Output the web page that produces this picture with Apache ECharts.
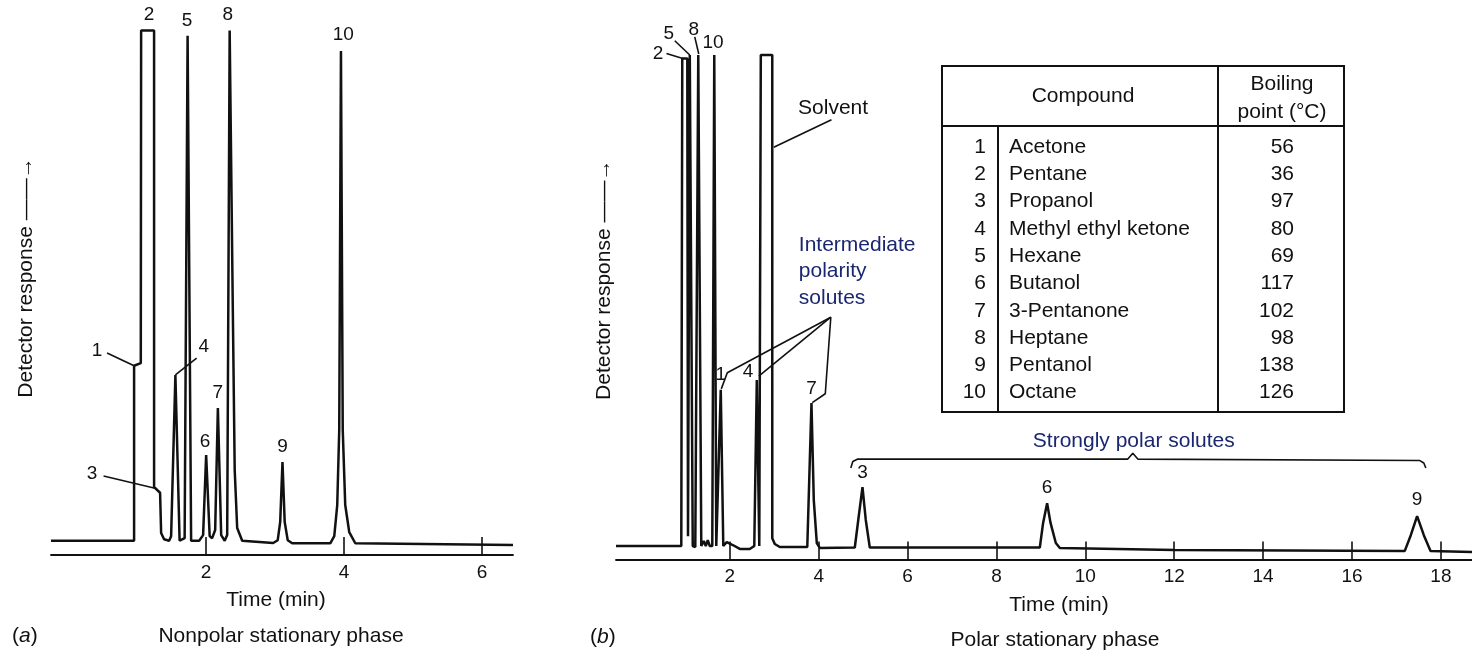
<!DOCTYPE html>
<html lang="en">
<head>
<meta charset="UTF-8">
<title>Chromatograms</title>
<script src="https://cdn.jsdelivr.net/npm/echarts@6/dist/echarts.min.js"></script>
<style>
  html, body { margin: 0; padding: 0; background: #fff; }
  #main { width: 1472px; height: 656px; }
</style>
</head>
<body>
<div id="main"></div>
<script>
// time axis ticks (min)
var leftTicks = [2, 4, 6];
var rightTicks = [2, 4, 6, 8, 10, 12, 14, 16, 18];

// detector trace, nonpolar phase: [time (min), response (% of full scale)]
var leftTrace = [
  [-0.25, 0], [0.955, 0], [0.955, 34.3], [1.052, 34.8], [1.057, 100], [1.245, 100],
  [1.245, 10.5], [1.332, 9.4], [1.347, 1.5], [1.39, 0.3], [1.463, 0],
  [1.492, 0.9], [1.554, 32.5], [1.615, 0],
  [1.688, 0.5], [1.731, 99], [1.782, 0], [1.898, 0],
  [1.956, 1.1], [2.0, 16.8], [2.051, 0.9], [2.087, 0.5],
  [2.131, 2.1], [2.17, 26], [2.218, 1.1], [2.269, 0],
  [2.305, 1.1], [2.341, 100], [2.385, 47.2], [2.414, 13.9], [2.45, 2.5], [2.523, 0],
  [2.972, -0.45], [3.038, 0.1], [3.074, 3.7], [3.107, 15.4], [3.139, 3.7], [3.183, 0.1], [3.248, -0.5],
  [3.8, -0.5], [3.858, 0.9], [3.901, 7], [3.93, 21.7], [3.955, 96], [3.981, 21.7], [4.017, 7], [4.075, 1.7], [4.163, -0.5],
  [6.45, -0.85]
];

// detector trace, polar phase
var rightTrace = [
  [-0.56, 0], [0.909, 0], [0.931, 99.3], [1.044, 99.3], [1.06, 2], [1.1, 100], [1.167, 0],
  [1.224, -0.2], [1.291, 100], [1.359, 0], [1.415, 1.0], [1.46, 0], [1.505, 1.2], [1.55, 0],
  [1.606, 0], [1.651, 100], [1.696, 0],
  [1.741, 0.2], [1.797, 31.8], [1.854, 0],
  [1.932, 0.8], [2.068, 0.2], [2.225, -0.6], [2.45, -0.6],
  [2.551, 0], [2.608, 33.8], [2.664, 0],
  [2.686, 0], [2.698, 100], [2.956, 100], [2.956, 1.6], [3.013, 0.4], [3.125, -0.2],
  [3.744, -0.2], [3.838, 29.1], [3.89, 9.4], [3.958, 0.6], [4.025, -0.4],
  [4.813, -0.3], [4.891, 5.3], [4.986, 12.0], [5.06, 5.3], [5.15, -0.3],
  [8.976, -0.3], [9.05, 4.7], [9.14, 8.7], [9.217, 4.7], [9.336, 0.6], [9.426, -0.4],
  [12.013, -0.8], [17.188, -1.0], [17.323, 2.2], [17.465, 6.1], [17.616, 2.2], [17.767, -1.0],
  [18.7, -1.2]
];

// peak number labels: [text, time, response]
var leftPeakLabels = [
  ['1', 0.418, 37.2], ['2', 1.173, 103.1], ['3', 0.345, 13.1], ['4', 1.964, 38.0],
  ['5', 1.724, 102.0], ['6', 1.985, 19.4], ['7', 2.17, 29.0], ['8', 2.315, 103.1],
  ['9', 3.107, 18.4], ['10', 3.988, 99.2]
];
var rightPeakLabels = [
  ['2', 0.387, 100.3], ['5', 0.627, 104.4], ['8', 1.19, 105.2], ['10', 1.624, 102.5],
  ['1', 1.797, 34.8], ['4', 2.412, 35.5], ['7', 3.838, 32.1],
  ['3', 4.986, 14.9], ['6', 9.14, 11.8], ['9', 17.465, 9.4]
];

// leader lines
var leftLeaders = [
  [[0.563, 36.8], [0.955, 34.3]],
  [[0.512, 12.7], [1.289, 10.2]],
  [[1.862, 35.8], [1.554, 32.5]]
];
var rightLeaders = [
  [[0.576, 100.3], [0.943, 99.3]],
  [[0.762, 102.9], [1.1, 100]],
  [[1.212, 103.7], [1.302, 100.2]],
  [[4.288, 86.8], [2.99, 81.2]],
  [[4.273, 46.6], [1.944, 35.3], [1.809, 32.0]],
  [[4.273, 46.6], [2.653, 34.6]],
  [[4.273, 46.6], [4.149, 31.0], [3.856, 29.2]]
];
var polarBrace = [
  [4.723, 15.9], [4.768, 17.2], [4.88, 17.7], [10.956, 17.7], [11.068, 18.9],
  [11.181, 17.7], [17.526, 17.4], [17.616, 16.9], [17.661, 15.9]
];

// table
var compoundIds = ['1', '2', '3', '4', '5', '6', '7', '8', '9', '10'];
var compoundNames = ['Acetone', 'Pentane', 'Propanol', 'Methyl ethyl ketone', 'Hexane',
  'Butanol', '3-Pentanone', 'Heptane', 'Pentanol', 'Octane'];
var boilingPoints = [56, 36, 97, 80, 69, 117, 102, 98, 138, 126];

var INK = '#111';
var NAVY = '#1b2670';
var FONT = '"Liberation Sans", Arial, Helvetica, sans-serif';

var myChart = echarts.init(document.getElementById('main'));

function xAxisFor(gi, min, max, ticks, pad) {
  return {
    type: 'value', gridIndex: gi, min: min, max: max,
    axisLine: { show: true, onZero: false, lineStyle: { color: INK, width: 1.8 } },
    axisTick: { show: true, inside: true, length: 18, customValues: ticks, lineStyle: { color: INK, width: 1.6 } },
    axisLabel: { customValues: ticks, fontSize: 19, color: INK, fontFamily: FONT, margin: 8 },
    splitLine: { show: false },
    name: 'Time (min)', nameLocation: 'middle', nameGap: 35,
    nameTextStyle: { fontSize: 21, color: INK, fontFamily: FONT, padding: pad }
  };
}
function yAxisFor(gi, min, max, gap) {
  return {
    type: 'value', gridIndex: gi, min: min, max: max,
    axisLine: { show: false }, axisTick: { show: false }, axisLabel: { show: false },
    splitLine: { show: false },
    name: 'Detector response \u2014\u2014\u2192', nameLocation: 'middle', nameRotate: 90, nameGap: gap,
    nameTextStyle: { fontSize: 21, color: INK, fontFamily: FONT }
  };
}
function trace(data, gi) {
  return {
    type: 'line', xAxisIndex: gi, yAxisIndex: gi, data: data,
    showSymbol: false, symbol: 'none', silent: true, clip: false,
    lineStyle: { color: INK, width: 2.5 }, z: 4
  };
}
function leader(points, gi) {
  return {
    type: 'line', xAxisIndex: gi, yAxisIndex: gi, data: points,
    showSymbol: false, symbol: 'none', silent: true, clip: false,
    lineStyle: { color: INK, width: 1.6 }, z: 3
  };
}
function labels(items, gi, size, color, align) {
  return {
    type: 'scatter', xAxisIndex: gi, yAxisIndex: gi, symbolSize: 1, silent: true, clip: false,
    itemStyle: { color: 'transparent', opacity: 1 },
    data: items.map(function (d) { return { name: d[0], value: [d[1], d[2]] }; }),
    label: { show: true, position: 'inside', formatter: '{b}', fontSize: size, color: color, opacity: 1,
      fontFamily: FONT, align: align || 'center', verticalAlign: 'middle' },
    z: 5
  };
}

var series = [trace(leftTrace, 0), trace(rightTrace, 1)];
leftLeaders.forEach(function (p) { series.push(leader(p, 0)); });
rightLeaders.forEach(function (p) { series.push(leader(p, 1)); });
series.push(leader(polarBrace, 1));
series.push(labels(leftPeakLabels, 0, 19, INK));
series.push(labels(rightPeakLabels, 1, 19, INK));
series.push(labels([['Solvent', 4.325, 89.1]], 1, 21, INK));
series.push(labels([['Intermediate', 3.553, 61.3], ['polarity', 3.553, 55.9], ['solutes', 3.553, 50.4]], 1, 21, NAVY, 'left'));
series.push(labels([['Strongly polar solutes', 11.09, 21.4]], 1, 21, NAVY));

// boiling point table (inset)
var tb = { x: 942, y: 66, w: 402, h: 346, head: 60, c1: 998, c2: 1218, row0: 147, rowH: 27.3 };
var graphic = [
  { type: 'rect', shape: { x: tb.x, y: tb.y, width: tb.w, height: tb.h }, style: { fill: '#fff', stroke: INK, lineWidth: 2 }, z: 1 },
  { type: 'line', shape: { x1: tb.x, y1: tb.y + tb.head, x2: tb.x + tb.w, y2: tb.y + tb.head }, style: { stroke: INK, lineWidth: 2 }, z: 2 },
  { type: 'line', shape: { x1: tb.c1, y1: tb.y + tb.head, x2: tb.c1, y2: tb.y + tb.h }, style: { stroke: INK, lineWidth: 2 }, z: 2 },
  { type: 'line', shape: { x1: tb.c2, y1: tb.y, x2: tb.c2, y2: tb.y + tb.h }, style: { stroke: INK, lineWidth: 2 }, z: 2 },
  { type: 'text', x: 1083, y: 96, style: { text: 'Compound', fontSize: 21, fontFamily: FONT, fill: INK, align: 'center', verticalAlign: 'middle' }, z: 2 },
  { type: 'text', x: 1282, y: 84, style: { text: 'Boiling', fontSize: 21, fontFamily: FONT, fill: INK, align: 'center', verticalAlign: 'middle' }, z: 2 },
  { type: 'text', x: 1282, y: 112, style: { text: 'point (\u00B0C)', fontSize: 21, fontFamily: FONT, fill: INK, align: 'center', verticalAlign: 'middle' }, z: 2 }
];
for (var i = 0; i < compoundIds.length; i++) {
  var ry = tb.row0 + i * tb.rowH;
  graphic.push({ type: 'text', x: 986, y: ry, style: { text: compoundIds[i], fontSize: 21, fontFamily: FONT, fill: INK, align: 'right', verticalAlign: 'middle' }, z: 2 });
  graphic.push({ type: 'text', x: 1009, y: ry, style: { text: compoundNames[i], fontSize: 21, fontFamily: FONT, fill: INK, align: 'left', verticalAlign: 'middle' }, z: 2 });
  graphic.push({ type: 'text', x: 1294, y: ry, style: { text: String(boilingPoints[i]), fontSize: 21, fontFamily: FONT, fill: INK, align: 'right', verticalAlign: 'middle' }, z: 2 });
}
// panel captions
graphic.push({ type: 'text', x: 12, y: 636, style: { text: '({i|a})', fontSize: 21, fontFamily: FONT, fill: INK, verticalAlign: 'middle', rich: { i: { fontStyle: 'italic', fontSize: 21, fontFamily: FONT } } } });
graphic.push({ type: 'text', x: 281, y: 636, style: { text: 'Nonpolar stationary phase', fontSize: 21, fontFamily: FONT, fill: INK, align: 'center', verticalAlign: 'middle' } });
graphic.push({ type: 'text', x: 590, y: 637, style: { text: '({i|b})', fontSize: 21, fontFamily: FONT, fill: INK, verticalAlign: 'middle', rich: { i: { fontStyle: 'italic', fontSize: 21, fontFamily: FONT } } } });
graphic.push({ type: 'text', x: 1055, y: 640, style: { text: 'Polar stationary phase', fontSize: 21, fontFamily: FONT, fill: INK, align: 'center', verticalAlign: 'middle' } });

myChart.setOption({
  animation: false,
  backgroundColor: '#fff',
  textStyle: { fontFamily: FONT },
  grid: [
    { left: 51, right: 959, top: 0, bottom: 101 },
    { left: 616, right: 0, top: 0, bottom: 96.5 }
  ],
  xAxis: [
    xAxisFor(0, -0.25, 6.45, leftTicks, [0, 12, 0, 0]),
    xAxisFor(1, -0.56, 18.7, rightTicks, [0, 0, 0, 30])
  ],
  yAxis: [
    yAxisFor(0, -2.8, 106, 14),
    yAxisFor(1, -2.75, 111.2, 1)
  ],
  graphic: graphic,
  series: series
});
</script>
</body>
</html>
